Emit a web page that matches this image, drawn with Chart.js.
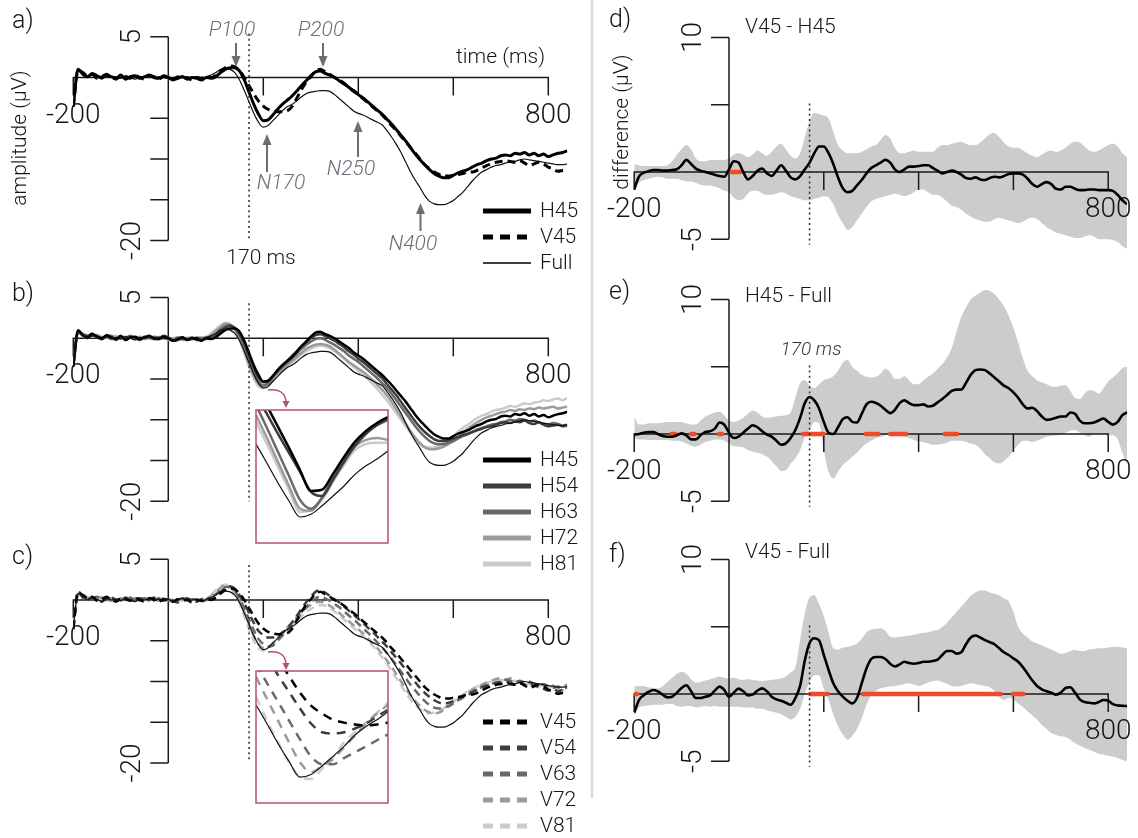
<!DOCTYPE html>
<html><head><meta charset="utf-8">
<script src="https://cdn.jsdelivr.net/npm/chart.js"></script>
<style>
html,body{margin:0;padding:0;background:#fff;}
#wrap{position:relative;width:1138px;height:838px;overflow:hidden;background:#fff;}
canvas{position:absolute;left:0;top:0;}
</style></head><body><div id="wrap">
<canvas id="ca" width="1138" height="838"></canvas>
<canvas id="cb" width="1138" height="838"></canvas>
<canvas id="cc" width="1138" height="838"></canvas>
<canvas id="cd" width="1138" height="838"></canvas>
<canvas id="ce" width="1138" height="838"></canvas>
<canvas id="cf" width="1138" height="838"></canvas>
<canvas id="cib" width="1138" height="838"></canvas>
<canvas id="cic" width="1138" height="838"></canvas>
</div>
<script>
// ---------------- DATA ----------------
const TIME = [-200,-190,-180,-170,-160,-150,-140,-130,-120,-110,-100,-90,-80,-70,-60,-50,-40,-30,-20,-10,0,10,20,30,40,50,60,70,80,90,100,110,120,130,140,150,160,170,180,190,200,210,220,230,240,250,260,270,280,290,300,310,320,330,340,350,360,370,380,390,400,410,420,430,440,450,460,470,480,490,500,510,520,530,540,550,560,570,580,590,600,610,620,630,640,650,660,670,680,690,700,710,720,730,740,750,760,770,780,790,800,810,820,830,840];

const H45 = [-3.5,1.0,0.4,0.1,0.5,0.2,0.0,0.3,0.1,-0.1, 0.3,-0.2,0.1,0.2,-0.1,0.1,0.3,0.0,-0.1,0.2, 0.0,-0.3,-0.1,0.1,-0.2,0.0,-0.1,-0.3,0.0,-0.1, 0.1,0.6,1.0,1.2,1.2,0.8,-0.3,-1.8,-3.3,-4.5, -5.3,-5.2,-4.6,-3.9,-3.3,-2.8,-2.3,-1.7,-1.0,-0.4, 0.2,0.7,0.8,0.5,0.3,0.0,-0.4,-0.8,-1.2,-1.7, -2.1,-2.5,-3.0,-3.5,-4.0,-4.5,-5.1,-5.7,-6.4,-7.1, -7.8,-8.6,-9.4,-10.1,-10.7,-11.3,-11.8,-12.1,-12.3,-12.3, -12.0,-11.7,-11.5,-11.3,-11.0,-10.7,-10.5,-10.2,-10.0,-9.9, -9.6,-9.5,-9.6,-9.3,-9.4,-9.2,-9.5,-9.3,-9.6,-9.4, -9.7,-9.5,-9.3,-9.2,-9.0];
const H54 = [-3.4,0.9,0.3,0.3,0.6,0.1,-0.1,0.4,0.2,-0.2, 0.2,-0.1,0.2,0.1,-0.2,0.2,0.2,-0.1,0.0,0.3, 0.1,-0.3,-0.2,0.0,-0.1,0.1,-0.2,-0.2,0.1,0.0, 0.3,0.8,1.3,1.5,1.3,0.6,-0.6,-2.1,-3.6,-4.8, -5.4,-5.3,-4.7,-4.0,-3.4,-2.8,-2.2,-1.6,-1.0,-0.5, 0.0,0.4,0.5,0.3,0.0,-0.3,-0.7,-1.1,-1.6,-2.0, -2.5,-2.9,-3.4,-3.9,-4.4,-4.9,-5.6,-6.3,-7.0,-7.8, -8.6,-9.4,-10.2,-10.9,-11.5,-12.0,-12.4,-12.6,-12.6,-12.5, -12.3,-12.1,-11.9,-11.7,-11.5,-11.3,-11.1,-10.9,-10.8,-10.6, -10.4,-10.3,-10.4,-10.2,-10.3,-10.1,-10.4,-10.5,-10.3,-10.6, -10.8,-10.7,-10.6,-10.8,-10.7];
const H63 = [-3.3,0.8,0.4,0.0,0.4,0.3,0.1,0.2,-0.1,0.0, 0.1,0.0,0.3,-0.1,-0.1,0.1,0.0,0.2,0.1,0.0, -0.1,-0.2,0.1,0.0,-0.2,-0.1,0.1,0.0,-0.1,0.1, 0.5,1.1,1.5,1.6,1.2,0.3,-1.0,-2.6,-4.1,-5.3, -5.8,-5.5,-4.8,-4.1,-3.5,-3.0,-2.5,-1.9,-1.3,-0.8, -0.4,-0.1,0.0,-0.2,-0.5,-0.8,-1.2,-1.6,-2.1,-2.5, -2.9,-3.4,-3.9,-4.4,-4.9,-5.5,-6.1,-6.8,-7.6,-8.4, -9.2,-10.0,-10.8,-11.5,-12.1,-12.6,-12.9,-13.0,-13.0,-12.8, -12.6,-12.3,-12.0,-11.8,-11.5,-11.2,-11.0,-10.8,-10.6,-10.5, -10.3,-10.2,-10.0,-10.1,-9.9,-10.0,-10.2,-10.1,-10.3,-10.5, -10.6,-10.4,-10.5,-10.7,-10.6];
const H72 = [-3.2,0.7,0.6,0.2,0.3,0.4,0.0,0.1,0.3,0.1, 0.0,0.2,0.1,0.0,0.2,-0.1,0.1,0.1,-0.1,0.1, 0.0,-0.1,0.0,-0.2,0.0,-0.1,0.0,0.1,0.0,0.4, 0.9,1.4,1.8,1.7,1.1,0.0,-1.5,-3.2,-4.6,-5.6, -5.9,-5.6,-4.9,-4.3,-3.8,-3.3,-2.8,-2.3,-1.8,-1.3, -1.0,-0.8,-0.7,-0.8,-1.0,-1.4,-1.9,-2.4,-2.9,-3.3, -3.7,-4.1,-4.6,-5.1,-5.7,-6.3,-7.0,-7.8,-8.7,-9.6, -10.5,-11.4,-12.2,-12.9,-13.4,-13.6,-13.6,-13.5,-13.3,-13.0, -12.6,-12.1,-11.6,-11.1,-10.7,-10.3,-10.0,-9.7,-9.5,-9.3, -9.1,-9.0,-8.8,-8.9,-8.7,-8.8,-8.6,-8.7,-8.5,-8.6, -8.5,-8.4,-8.6,-8.5,-8.4];
const H81 = [-3.0,0.6,0.5,0.4,0.2,0.3,0.2,0.0,0.2,0.3, 0.1,0.0,0.2,0.1,0.0,0.2,0.0,-0.1,0.2,0.0, -0.2,0.0,0.1,-0.1,0.1,0.0,-0.2,0.0,0.2,0.6, 1.1,1.6,1.9,1.7,1.0,-0.2,-1.8,-3.5,-4.9,-5.9, -6.1,-5.8,-5.1,-4.5,-4.0,-3.5,-3.0,-2.5,-2.0,-1.6, -1.3,-1.0,-0.9,-1.0,-1.2,-1.6,-2.0,-2.5,-3.0,-3.5, -4.0,-4.5,-5.0,-5.6,-6.2,-6.9,-7.6,-8.4,-9.2,-10.0, -10.8,-11.6,-12.3,-12.9,-13.3,-13.4,-13.4,-13.2,-12.9,-12.5, -12.0,-11.5,-11.0,-10.6,-10.2,-9.8,-9.5,-9.3,-9.0,-8.8, -8.7,-8.5,-8.3,-8.4,-8.2,-8.0,-8.1,-7.9,-7.8,-7.6, -7.7,-7.5,-7.4,-7.6,-7.3];
const V45 = [-3.6,0.9,0.6,0.2,0.4,-0.1,0.1,0.4,0.0,-0.2, 0.2,0.1,-0.1,0.3,0.0,-0.2,0.2,0.1,-0.2,0.1, 0.0,-0.2,0.1,-0.1,0.0,-0.3,0.0,-0.1,0.1,0.0, 0.3,0.8,1.2,1.4,1.3,0.8,0.0,-1.0,-2.0,-2.9, -3.5,-3.9,-4.1,-4.2,-4.2,-4.1,-3.6,-2.6,-1.5,-0.6, 0.1,0.8,1.0,0.7,0.4,0.0,-0.3,-0.7,-1.2,-1.6, -2.1,-2.6,-3.1,-3.6,-4.1,-4.6,-5.2,-5.9,-6.5,-7.2, -7.9,-8.6,-9.3,-10.0,-10.7,-11.2,-11.6,-11.9,-12.1,-12.1, -12.0,-11.9,-11.8,-11.6,-11.6,-11.4,-11.1,-10.8,-10.6,-10.4, -10.3,-10.2,-10.3,-10.4,-10.2,-10.5,-10.8,-10.6,-10.4,-10.6, -11.0,-11.2,-11.5,-11.4,-11.3];
const V54 = [-3.5,1.1,0.3,0.1,0.3,0.2,-0.2,0.2,0.3,0.0, -0.1,0.3,0.0,0.1,0.2,-0.1,0.0,0.3,0.0,-0.1, 0.2,-0.1,-0.3,0.0,0.2,-0.1,-0.2,0.1,0.2,0.1, 0.4,1.0,1.5,1.7,1.4,0.6,-0.4,-1.6,-2.8,-3.8, -4.3,-4.6,-4.6,-4.4,-4.0,-3.5,-2.8,-2.0,-1.1,-0.3, 0.4,1.0,1.2,0.9,0.5,0.1,-0.3,-0.8,-1.3,-1.8, -2.3,-2.8,-3.4,-3.9,-4.5,-5.1,-5.7,-6.4,-7.1,-7.8, -8.6,-9.4,-10.1,-10.8,-11.4,-11.9,-12.3,-12.6,-12.7,-12.6, -12.4,-12.1,-11.8,-11.5,-11.3,-11.0,-10.7,-10.5,-10.4,-10.2, -10.1,-10.0,-10.2,-10.3,-10.1,-10.4,-10.6,-10.4,-10.7,-10.9, -11.1,-10.9,-11.2,-11.0,-10.8];
const V63 = [-3.4,0.9,0.5,0.0,0.2,0.4,0.1,0.0,0.2,0.1, 0.0,0.1,0.3,-0.1,0.1,0.2,-0.1,0.0,0.2,0.0, 0.0,-0.2,0.0,0.2,-0.1,0.1,0.0,-0.2,0.0,0.3, 0.7,1.2,1.6,1.6,1.1,0.2,-1.0,-2.4,-3.7,-4.8, -5.4,-5.7,-5.6,-5.0,-4.4,-3.8,-3.1,-2.4,-1.6,-0.9, -0.3,0.2,0.4,0.2,-0.1,-0.5,-0.9,-1.4,-1.9,-2.4, -2.9,-3.5,-4.0,-4.6,-5.2,-5.8,-6.5,-7.2,-8.0,-8.8, -9.6,-10.4,-11.1,-11.8,-12.4,-12.9,-13.2,-13.3,-13.2,-13.0, -12.7,-12.3,-12.0,-11.7,-11.3,-11.0,-10.7,-10.5,-10.3,-10.1, -10.0,-9.8,-9.9,-10.1,-9.9,-10.2,-10.0,-10.3,-10.5,-10.3, -10.6,-10.8,-10.6,-10.9,-10.7];
const V72 = [-3.3,0.7,0.7,0.2,0.1,0.3,0.3,0.1,-0.1,0.2, 0.2,0.0,0.1,0.2,-0.1,0.0,0.2,0.1,-0.1,0.2, 0.1,0.0,-0.2,0.0,0.1,-0.1,0.1,0.0,0.2,0.5, 1.0,1.5,1.8,1.6,1.0,-0.1,-1.5,-3.0,-4.4,-5.4, -5.9,-5.8,-5.3,-4.7,-4.0,-3.4,-2.8,-2.1,-1.5,-1.0, -0.6,-0.3,-0.2,-0.4,-0.7,-1.1,-1.6,-2.1,-2.6,-3.1, -3.6,-4.1,-4.7,-5.3,-5.9,-6.6,-7.4,-8.2,-9.1,-10.0, -10.9,-11.7,-12.4,-13.0,-13.5,-13.8,-13.9,-13.8,-13.5,-13.1, -12.7,-12.2,-11.8,-11.4,-11.0,-10.7,-10.4,-10.1,-9.9,-9.7, -9.6,-9.8,-9.6,-9.9,-10.1,-9.9,-10.2,-10.4,-10.2,-10.5, -10.7,-10.5,-10.8,-10.6,-10.4];
const V81 = [-3.1,0.6,0.4,0.3,0.3,0.2,0.1,0.3,0.1,0.0, 0.1,0.2,0.0,0.1,0.1,-0.1,0.0,0.2,0.1,-0.1, 0.0,0.1,-0.1,-0.1,0.0,0.1,-0.1,0.1,0.1,0.6, 1.2,1.7,1.9,1.6,0.8,-0.4,-2.0,-3.6,-5.0,-5.9, -6.2,-6.0,-5.4,-4.8,-4.2,-3.7,-3.2,-2.6,-2.0,-1.5, -1.1,-0.8,-0.6,-0.7,-1.0,-1.4,-1.9,-2.4,-2.9,-3.4, -3.9,-4.4,-5.0,-5.6,-6.3,-7.0,-7.8,-8.7,-9.6,-10.5, -11.4,-12.2,-12.9,-13.4,-13.8,-13.9,-13.8,-13.6,-13.3,-12.9, -12.5,-12.0,-11.6,-11.2,-10.9,-10.6,-10.4,-10.2,-10.0,-9.9, -9.8,-9.9,-10.1,-9.9,-10.2,-10.4,-10.3,-10.5,-10.7,-10.5, -10.8,-10.6,-10.9,-11.1,-10.9];
const FULL = [-3.3,0.8,0.5,0.0,0.3,0.1,-0.2,0.2,0.0,0.1, -0.1,0.2,0.0,-0.2,0.1,0.0,0.2,-0.1,0.1,0.0, 0.1,-0.2,0.0,0.2,-0.1,0.0,0.1,-0.2,0.1,0.3, 0.6,1.0,1.1,1.0,0.6,-0.3,-1.6,-3.0,-4.4,-5.5, -6.1,-5.9,-5.3,-4.7,-4.1,-3.6,-3.3,-2.9,-2.4,-2.0, -1.8,-1.7,-1.6,-1.6,-1.7,-2.1,-2.6,-3.1,-3.6,-4.1, -4.4,-4.6,-4.9,-5.2,-5.5,-5.8,-6.5,-7.3,-8.2,-9.2, -10.4,-11.6,-12.6,-13.5,-14.5,-15.2,-15.5,-15.6,-15.6,-15.4, -15.1,-14.6,-14.1,-13.4,-12.7,-12.1,-11.6,-11.3,-11.0,-10.8, -10.7,-10.5,-10.4,-10.3,-10.1,-10.0,-10.1,-10.2,-10.3,-10.4, -10.5,-10.6,-10.7,-10.7,-10.6];

// zoomed N170 windows (insets)
const INSET_TIME = [175,180,185,190,195,200,205,210,215,220,225,230,235];
const INSET_FULL = [-3.65,-4.30,-4.97,-5.58,-6.12,-6.03,-5.74,-5.41,-5.07,-4.68,-4.39,-4.16,-3.89];
const INSET_H45 = [-1.66,-2.36,-3.07,-3.78,-4.53,-5.24,-5.20,-4.66,-4.09,-3.58,-3.21,-2.94,-2.74];
const INSET_H54 = [-1.99,-2.64,-3.31,-3.95,-4.59,-5.27,-5.41,-4.86,-4.26,-3.72,-3.31,-3.01,-2.77];
const INSET_H63 = [-2.33,-3.11,-3.92,-4.73,-5.54,-5.84,-5.47,-4.80,-4.12,-3.58,-3.24,-3.01,-2.84];
const INSET_H72 = [-2.67,-3.45,-4.26,-5.07,-5.84,-5.91,-5.47,-4.80,-4.19,-3.72,-3.51,-3.45,-3.51];
const INSET_H81 = [-2.91,-3.65,-4.43,-5.20,-5.95,-5.88,-5.54,-4.93,-4.36,-3.85,-3.65,-3.61,-3.61];
const INSET_V45 = [-0.98,-1.55,-2.09,-2.67,-3.24,-3.68,-3.95,-4.16,-4.26,-4.32,-4.36,-4.32,-4.26];
const INSET_V54 = [-1.49,-2.03,-2.64,-3.21,-3.78,-4.29,-4.59,-4.63,-4.59,-4.46,-4.29,-4.05,-3.82];
const INSET_V63 = [-2.26,-2.91,-3.55,-4.19,-4.83,-5.41,-5.68,-5.68,-5.47,-5.27,-5.07,-4.86,-4.66];
const INSET_V72 = [-2.70,-3.45,-4.19,-4.93,-5.61,-5.95,-5.74,-5.51,-5.10,-4.70,-4.29,-3.95,-3.65];
const INSET_V81 = [-3.38,-4.19,-4.93,-5.61,-6.11,-6.18,-5.84,-5.44,-4.93,-4.59,-4.26,-3.92,-3.58];

// difference waves: mean and confidence band
const D_MEAN = [-1.3,-0.35,-0.05,0.05,0.15,0.15,0.1,0.1,0.15,0.2, 0.5,0.9,0.6,0.25,0.1,0.0,-0.1,-0.2,-0.3,-0.35, 0.2,0.8,0.7,0.0,-0.55,-0.3,0.1,0.25,-0.1,-0.3, 0.1,0.5,0.1,-0.4,-0.55,-0.3,0.2,0.7,1.4,1.9, 1.9,1.4,0.6,-0.4,-1.2,-1.5,-1.4,-1.0,-0.6,-0.1, 0.3,0.5,0.7,0.9,0.7,0.2,0.0,0.2,0.4,0.4, 0.45,0.5,0.5,0.3,0.1,-0.1,0.0,0.1,0.0,-0.2, -0.45,-0.5,-0.4,-0.55,-0.6,-0.45,-0.35,-0.4,-0.3,-0.15, -0.1,-0.1,-0.2,-0.5,-0.9,-1.1,-0.9,-0.75,-0.9,-1.25, -1.3,-1.1,-1.1,-1.25,-1.35,-1.35,-1.3,-1.3,-1.35,-1.35, -1.35,-1.4,-1.7,-2.1,-2.4];
const D_UPPER = [0.6,0.5,0.45,0.45,0.45,0.45,0.45,0.5,0.8,1.3, 1.7,2.0,1.7,1.0,0.8,0.8,0.9,0.9,0.9,0.9, 1.0,1.3,1.4,1.3,1.1,1.3,1.6,1.4,1.2,1.5, 1.9,2.1,1.7,1.2,1.0,1.4,2.6,3.8,4.4,4.3, 4.2,4.0,3.0,2.0,1.6,1.4,1.4,1.4,1.5,1.7, 1.9,2.0,2.4,2.75,2.5,1.8,1.4,1.4,1.5,1.6, 1.5,1.5,1.5,1.5,1.8,2.0,2.0,2.1,2.2,2.25, 2.1,2.0,2.0,2.2,2.5,2.8,2.9,2.6,2.2,1.9, 1.8,1.8,1.6,1.4,1.2,1.1,1.3,1.5,1.6,1.5, 1.6,1.8,2.1,2.25,2.2,1.9,1.6,1.5,1.6,1.8, 2.0,2.1,1.9,1.4,1.1];
const D_LOWER = [-1.4,-0.8,-0.6,-0.5,-0.4,-0.35,-0.4,-0.5,-0.5,-0.5, -0.6,-0.7,-0.7,-0.8,-0.95,-1.0,-1.0,-1.1,-1.2,-1.4, -1.5,-1.9,-2.1,-2.0,-1.6,-1.4,-1.4,-1.6,-1.7,-1.7, -1.6,-1.5,-1.6,-1.8,-1.9,-2.0,-2.1,-2.1,-2.0,-1.9, -1.8,-1.9,-2.4,-3.2,-3.8,-4.3,-4.1,-3.6,-3.1,-2.6, -2.2,-2.0,-1.9,-1.8,-1.7,-1.6,-1.7,-1.8,-1.7,-1.5, -1.3,-1.3,-1.5,-1.7,-1.7,-1.9,-2.2,-2.5,-2.6,-2.8, -3.1,-3.3,-3.5,-3.6,-3.7,-3.7,-3.5,-3.4,-3.5,-3.6, -3.7,-3.8,-3.7,-3.5,-3.4,-3.5,-3.8,-4.1,-4.3,-4.5, -4.6,-4.7,-4.8,-4.9,-4.9,-4.8,-4.7,-4.8,-5.0,-5.0, -5.0,-5.05,-5.2,-5.5,-5.7];
const E_MEAN = [-0.05,0.0,0.1,0.15,0.15,0.0,-0.15,-0.2,-0.2,-0.1, 0.05,-0.1,-0.4,-0.4,-0.1,0.15,0.2,0.4,0.85,0.7, 0.1,-0.3,-0.2,0.1,0.4,0.65,0.5,0.2,-0.05,-0.2, -0.5,-0.8,-0.7,-0.3,0.3,1.2,2.3,2.75,2.5,1.9, 0.9,0.1,0.0,0.5,1.1,1.25,0.9,0.85,1.5,2.2, 2.4,2.3,2.1,1.8,1.55,1.8,2.3,2.5,2.3,2.15, 2.15,2.2,2.05,2.1,2.35,2.6,2.9,3.2,3.3,3.3, 3.8,4.4,4.75,4.8,4.75,4.5,4.2,3.9,3.6,3.4, 3.1,2.7,2.2,1.9,1.95,1.7,1.3,1.05,1.1,1.2, 1.3,1.3,1.6,1.5,1.0,0.8,0.8,0.85,1.0,1.15, 0.9,0.7,0.9,1.4,1.6];
const E_UPPER = [1.3,0.7,0.7,0.8,0.8,0.8,0.85,0.9,0.9,0.9, 0.9,0.8,0.7,0.7,1.0,1.3,1.45,1.6,1.65,1.4, 1.0,0.9,1.0,1.2,1.5,1.75,1.6,1.3,1.2,1.25, 1.3,1.35,1.4,1.6,2.7,3.8,4.0,3.6,3.4,3.7, 4.0,4.1,4.3,4.7,5.3,5.5,5.0,4.7,4.4,4.25, 4.2,4.25,4.5,4.85,4.6,4.1,4.1,4.3,4.0,3.7, 3.7,4.0,4.25,4.5,4.85,5.2,5.7,6.4,7.6,8.7, 9.4,10.0,10.3,10.5,10.7,10.65,10.4,10.0,9.5,8.8, 7.9,6.8,5.6,4.7,4.3,4.0,3.85,3.7,3.55,3.5, 3.6,3.65,3.2,2.7,2.6,3.0,3.25,3.2,3.0,3.4, 3.9,4.2,4.5,4.9,5.0];
const E_LOWER = [-0.3,-0.4,-0.4,-0.45,-0.45,-0.45,-0.45,-0.45,-0.5,-0.5, -0.55,-0.7,-0.85,-0.95,-0.8,-0.6,-0.5,-0.4,-0.4,-0.5, -0.7,-0.9,-0.95,-1.0,-1.2,-1.3,-1.4,-1.5,-1.7,-2.0, -2.4,-2.75,-2.7,-2.2,-1.8,-1.2,-0.2,0.3,0.9,0.8, -1.2,-2.8,-3.3,-2.8,-2.3,-2.0,-1.7,-1.4,-1.0,-0.7, -0.5,-0.3,-0.2,-0.1,0.0,0.05,-0.05,-0.2,-0.3,-0.45, -0.55,-0.6,-0.7,-0.8,-0.8,-0.75,-0.65,-0.5,-0.5,-0.5, -0.6,-0.7,-0.8,-1.1,-1.5,-1.8,-2.1,-2.2,-2.0,-1.7, -1.2,-0.8,-0.5,-0.5,-0.6,-0.5,-0.35,-0.2,-0.15,-0.1, -0.05,0.1,0.25,0.3,0.1,-0.1,-0.2,0.0,0.05,0.0, -0.1,-0.1,-0.4,-1.4,-2.3];
const F_MEAN = [-1.4,-0.45,-0.1,0.15,0.3,0.2,-0.05,-0.25,-0.2,0.1, 0.45,0.65,0.2,-0.3,-0.3,-0.2,-0.1,0.25,0.55,0.3, -0.2,0.1,0.4,0.2,-0.1,-0.05,0.25,0.42,0.2,-0.2, -0.4,-0.5,-0.65,-0.8,-0.3,0.6,2.5,3.8,4.15,4.0, 2.9,1.8,0.8,0.2,-0.2,-0.5,-0.7,-0.3,0.8,1.9, 2.6,2.75,2.75,2.6,2.25,2.05,2.2,2.4,2.3,2.25, 2.3,2.4,2.4,2.45,2.55,2.9,3.2,3.2,3.0,3.1, 3.7,4.2,4.35,4.2,4.0,3.85,3.7,3.4,3.1,2.9, 2.65,2.4,2.0,1.5,1.0,0.6,0.35,0.2,0.1,-0.05, 0.1,0.45,0.5,0.1,-0.4,-0.6,-0.65,-0.7,-0.6,-0.45, -0.5,-0.75,-0.85,-0.87,-0.9];
const F_UPPER = [0.55,0.6,0.6,0.5,0.45,0.4,0.6,0.9,1.2,1.5, 1.66,1.5,1.1,0.85,0.9,1.0,1.1,1.2,1.3,1.2, 1.15,1.2,1.1,1.05,1.1,1.05,1.0,0.95,1.0,1.05, 1.1,1.16,1.3,1.6,2.0,4.0,6.0,7.2,7.35,6.7, 5.8,4.6,3.4,3.3,3.45,3.5,3.6,3.75,4.1,4.6, 4.8,4.85,4.88,4.7,4.25,4.2,4.25,4.3,4.35,4.4, 4.5,4.55,4.6,4.7,4.75,5.0,5.3,5.7,6.1,6.5, 6.9,7.3,7.55,7.7,7.7,7.55,7.45,7.35,7.1,6.9, 6.1,5.0,4.5,4.2,3.9,3.75,3.6,3.45,3.3,3.15, 3.0,3.05,3.2,3.27,3.2,3.2,3.3,3.35,3.4,3.4, 3.45,3.5,3.52,3.45,3.4];
const F_LOWER = [-1.6,-1.0,-0.9,-0.85,-0.8,-0.8,-0.8,-0.75,-0.75,-0.9, -0.95,-0.9,-0.9,-1.0,-0.95,-0.9,-0.95,-0.9,-0.95,-0.95, -0.95,-0.95,-0.95,-1.0,-1.0,-1.0,-1.1,-1.1,-1.2,-1.3, -1.4,-1.5,-1.7,-1.9,-1.7,-1.1,0.0,0.9,1.4,1.4, 0.4,-0.4,-1.5,-2.4,-3.0,-3.4,-3.1,-2.6,-1.8,-0.8, -0.1,0.25,0.42,0.5,0.55,0.6,0.65,0.75,0.8,0.7, 0.6,0.7,0.85,0.95,1.0,0.9,0.75,0.6,0.55,0.6, 0.7,0.8,0.75,0.65,0.6,0.5,0.2,-0.2,-0.45,-0.3, -0.4,-0.7,-0.95,-1.3,-1.6,-1.9,-2.3,-2.6,-2.9,-3.05, -3.15,-3.2,-3.4,-3.65,-3.85,-4.0,-4.15,-4.3,-4.45,-4.5, -4.6,-4.66,-4.75,-4.9,-5.0];

// significant intervals (ms)
const SIG_D = [[5,24]];
const SIG_E = [[-121,-114],[-80,-73],[-21,-15],[156,199],[289,315],[340,374],[455,481]];
const SIG_F = [[-199,-194],[171,208],[283,573],[599,621]];

// axis ticks
const LEFT_YTICKS = [5,0,-5,-10,-15,-20];
const RIGHT_YTICKS = [10,5,0,-5];
const XTICKS = [-200,200,400,600,800];

// ---------------- DRAWING ----------------
const W = 1138, H = 838;
const FONT = '"Roboto","Liberation Sans",Arial,sans-serif';
const GREYS = ['#000000','#3d3d3d','#6a6a6a','#9b9b9b','#cbcbcb'];
const ANN = '#6b6e76';
const PINK = '#b5507a';

function pts(vals, times){ return vals.map((v,i)=>({x:(times||TIME)[i], y:v})); }
function ln(vals, color, width, dash, times, clip){
  const d = {data:pts(vals,times), borderColor:color, borderWidth:width, borderDash:dash||[], pointRadius:0,
    fill:false, cubicInterpolationMode:'monotone'};
  if (clip!==undefined) d.clip = clip;
  return d;
}
function sigData(iv){ const out=[]; iv.forEach(([s,e])=>{out.push({x:s,y:0},{x:e,y:0},{x:e,y:null});}); return out; }

function txt(ctx, s, x, y, size, o){
  o=o||{};
  ctx.save();
  ctx.font = (o.italic?'italic ':'') + (o.weight||300) + ' ' + size + 'px ' + FONT;
  ctx.fillStyle = o.color || '#161616';
  ctx.textAlign = o.align || 'center';
  ctx.textBaseline = 'middle';
  ctx.translate(x,y);
  if (o.rot) ctx.rotate(o.rot);
  ctx.fillText(s,0,0);
  ctx.restore();
}
function arrow(ctx, x, yTail, yHead){
  const dir = Math.sign(yHead-yTail);
  ctx.save(); ctx.strokeStyle=ANN; ctx.fillStyle=ANN; ctx.lineWidth=2;
  ctx.beginPath(); ctx.moveTo(x,yTail); ctx.lineTo(x,yHead-dir*9); ctx.stroke();
  ctx.beginPath(); ctx.moveTo(x,yHead); ctx.lineTo(x-4.5,yHead-dir*11); ctx.lineTo(x+4.5,yHead-dir*11); ctx.closePath(); ctx.fill();
  ctx.restore();
}
function dotted(c, t, v1, v2){
  const ctx=c.ctx, x=c.scales.x.getPixelForValue(t);
  ctx.save(); ctx.strokeStyle='#2a2a2a'; ctx.lineWidth=1.5; ctx.setLineDash([2,3.2]);
  ctx.beginPath(); ctx.moveTo(x,c.scales.y.getPixelForValue(v1)); ctx.lineTo(x,c.scales.y.getPixelForValue(v2)); ctx.stroke();
  ctx.restore();
}
function axes(c, yticks, ytop, ybot, ylabTop, ylabBot){
  const ctx=c.ctx, xs=c.scales.x, ys=c.scales.y;
  const X0=xs.getPixelForValue(0), Y0=ys.getPixelForValue(0);
  ctx.save(); ctx.strokeStyle='#1a1a1a'; ctx.lineWidth=1.5; ctx.beginPath();
  ctx.moveTo(X0, ys.getPixelForValue(ytop)); ctx.lineTo(X0, ys.getPixelForValue(ybot));
  yticks.forEach(v=>{const y=ys.getPixelForValue(v); ctx.moveTo(X0-18,y); ctx.lineTo(X0,y);});
  ctx.moveTo(xs.getPixelForValue(-200)-0.7, Y0); ctx.lineTo(xs.getPixelForValue(800)+0.7, Y0);
  XTICKS.forEach(t=>{const x=xs.getPixelForValue(t); ctx.moveTo(x,Y0); ctx.lineTo(x,Y0+18);});
  ctx.stroke(); ctx.restore();
  txt(ctx, ylabTop, X0-35, ys.getPixelForValue(ytop), 28, {rot:-Math.PI/2});
  txt(ctx, ylabBot, X0-35, ys.getPixelForValue(ybot), 28, {rot:-Math.PI/2});
  txt(ctx, '-200', xs.getPixelForValue(-200), Y0+38, 28);
  txt(ctx, '800', xs.getPixelForValue(800), Y0+38, 28);
}
function legend(ctx, items, y0){
  items.forEach((it,i)=>{
    const y=y0+i*26;
    ctx.save(); ctx.strokeStyle=it.color; ctx.lineWidth=it.w; ctx.setLineDash(it.dash||[]);
    ctx.beginPath(); ctx.moveTo(483,y); ctx.lineTo(531,y); ctx.stroke(); ctx.restore();
    txt(ctx, it.label, 540, y+1, 21, {align:'left'});
  });
}

function make(id, area, xr, yr, datasets, hooks){
  return new Chart(document.getElementById(id), {
    type:'line',
    data:{datasets},
    options:{
      responsive:false, animation:false, devicePixelRatio:1, events:[],
      layout:{padding:{left:area.left, right:W-area.right, top:area.top, bottom:H-area.bottom}},
      scales:{x:{type:'linear', min:xr[0], max:xr[1], display:false},
              y:{type:'linear', min:yr[0], max:yr[1], display:false}},
      plugins:{legend:{display:false}, tooltip:{enabled:false}}
    },
    plugins:[{id:'p_'+id,
      beforeDatasetsDraw(c){ hooks.before && hooks.before(c); },
      afterDatasetDraw(c,a){ hooks.afterDs && hooks.afterDs(c,a); },
      afterDatasetsDraw(c){ hooks.after && hooks.after(c); }}]
  });
}
function areaFor(x0, pxms, xr, y0, pxu, yr){
  return {left:x0+xr[0]*pxms, right:x0+xr[1]*pxms, top:y0-yr[1]*pxu, bottom:y0-yr[0]*pxu};
}

// ----- left column -----
const LX0=168.3, LPX=0.475, LPU=8.15, LXR=[-200,840], LYR=[-21,6];
function leftPanel(id, y0, datasets, letterY, extra){
  return make(id, areaFor(LX0,LPX,LXR,y0,LPU,LYR), LXR, LYR, datasets, {
    before(c){ axes(c, LEFT_YTICKS, 5, -20, '5', '-20'); },
    after(c){ txt(c.ctx, letterY[0], 12, letterY[1], 25, {align:'left'}); extra(c); }
  });
}

leftPanel('ca', 77.5, [
  ln(V45,'#000',3,[8,5]), ln(H45,'#000',3), ln(FULL,'#111',1.2)
], ['a)',22], c=>{
  const ctx=c.ctx;
  dotted(c,170,5.4,-20.1);
  txt(ctx,'time (ms)',545,58,21,{align:'right'});
  txt(ctx,'amplitude (µV)',21,138,21,{rot:-Math.PI/2});
  txt(ctx,'170 ms',261,259,21);
  txt(ctx,'P100',232,31,21,{italic:true,color:ANN}); arrow(ctx,236,43,67);
  txt(ctx,'P200',321,31,21,{italic:true,color:ANN}); arrow(ctx,323,43,67);
  txt(ctx,'N170',281,184,21,{italic:true,color:ANN}); arrow(ctx,267,172,134);
  txt(ctx,'N250',351,170,21,{italic:true,color:ANN}); arrow(ctx,358,157,121);
  txt(ctx,'N400',413,245,21,{italic:true,color:ANN}); arrow(ctx,420.5,231,203);
  legend(ctx,[{label:'H45',color:'#000',w:5},{label:'V45',color:'#000',w:5,dash:[10,7]},{label:'Full',color:'#000',w:1.5}],211);
});

leftPanel('cb', 338.3, [
  ln(FULL,'#111',1.2), ln(H45,GREYS[0],2.5), ln(H54,GREYS[1],2.5), ln(H63,GREYS[2],2.5), ln(H72,GREYS[3],2.5), ln(H81,GREYS[4],2.5)
], ['b)',295], c=>{
  dotted(c,170,4.3,-20);
  legend(c.ctx,['H45','H54','H63','H72','H81'].map((l,i)=>({label:l,color:GREYS[i],w:5})),460);
});

leftPanel('cc', 600, [
  ln(FULL,'#111',1.2), ln(V45,GREYS[0],2.5,[8,5]), ln(V54,GREYS[1],2.5,[8,5]), ln(V63,GREYS[2],2.5,[8,5]), ln(V72,GREYS[3],2.5,[8,5]), ln(V81,GREYS[4],2.5,[8,5])
], ['c)',558], c=>{
  dotted(c,170,4.3,-19.9);
  legend(c.ctx,['V45','V54','V63','V72','V81'].map((l,i)=>({label:l,color:GREYS[i],w:5,dash:[10,7]})),722);
});

// ----- right column -----
const RX0=729, RPX=0.474, RPU=13.45, RXR=[-200,840], RYR=[-6.5,11];
function rightPanel(id, y0, mean, upper, lower, sig, letter, title, extra){
  return make(id, areaFor(RX0,RPX,RXR,y0,RPU,RYR), RXR, RYR, [
    ln(mean,'#000',2.6),
    {data:sigData(sig), borderColor:'#ef4a2a', borderWidth:4.5, borderCapStyle:'round', pointRadius:0, spanGaps:false, fill:false},
    {data:pts(upper), borderColor:'rgba(0,0,0,0)', borderWidth:0, pointRadius:0, fill:'+1', backgroundColor:'#cccccc', cubicInterpolationMode:'monotone'},
    {data:pts(lower), borderColor:'rgba(0,0,0,0)', borderWidth:0, pointRadius:0, fill:false, cubicInterpolationMode:'monotone'}
  ], {
    afterDs(c,a){ if(a.index===2) axes(c, RIGHT_YTICKS, 10, -5, '10', '-5'); },
    after(c){
      dotted(c,170,5.1,-5.4);
      txt(c.ctx, letter[0], 609, letter[1], 25, {align:'left'});
      txt(c.ctx, title[0], 745, title[1], 21, {align:'left'});
      extra && extra(c);
    }
  });
}
rightPanel('cd', 172, D_MEAN, D_UPPER, D_LOWER, SIG_D, ['d)',21], ['V45 - H45',28], c=>{
  const ctx=c.ctx;
  txt(ctx,'difference (µV)',623,122,21,{rot:-Math.PI/2});
  ctx.save(); ctx.strokeStyle='#dadada'; ctx.lineWidth=2.5; ctx.beginPath(); ctx.moveTo(592,0); ctx.lineTo(592,798); ctx.stroke(); ctx.restore();
});
rightPanel('ce', 434, E_MEAN, E_UPPER, E_LOWER, SIG_E, ['e)',293], ['H45 - Full',297], c=>{
  txt(c.ctx,'170 ms',811,350,19,{italic:true,color:'#333'});
});
rightPanel('cf', 694, F_MEAN, F_UPPER, F_LOWER, SIG_F, ['f)',556], ['V45 - Full',553], null);

// ----- insets -----
const IXR=[175,235], IYR=[-7.0,-2.5];
function inset(id, box, datasets, arr){
  return make(id, box, IXR, IYR, datasets, {
    before(c){ const a=c.chartArea; c.ctx.save(); c.ctx.fillStyle='#fff'; c.ctx.fillRect(a.left,a.top,a.right-a.left,a.bottom-a.top); c.ctx.restore(); },
    after(c){
      const ctx=c.ctx, a=c.chartArea;
      ctx.save(); ctx.strokeStyle=PINK; ctx.lineWidth=1.5; ctx.strokeRect(a.left,a.top,a.right-a.left,a.bottom-a.top);
      ctx.beginPath(); ctx.moveTo(arr[0],arr[1]); ctx.quadraticCurveTo(arr[2]-1,arr[1]-2,arr[2],arr[3]-6); ctx.stroke();
      ctx.fillStyle=PINK; ctx.beginPath(); ctx.moveTo(arr[2],arr[3]); ctx.lineTo(arr[2]-3.5,arr[3]-7); ctx.lineTo(arr[2]+3.5,arr[3]-7); ctx.closePath(); ctx.fill();
      ctx.restore();
    }
  });
}
inset('cib', {left:256,right:388,top:410,bottom:543}, [
  ln(INSET_FULL,'#111',1.2,[],INSET_TIME,0),
  ln(INSET_H45,GREYS[0],2.5,[],INSET_TIME,0), ln(INSET_H54,GREYS[1],2.5,[],INSET_TIME,0), ln(INSET_H63,GREYS[2],2.5,[],INSET_TIME,0),
  ln(INSET_H72,GREYS[3],2.5,[],INSET_TIME,0), ln(INSET_H81,GREYS[4],2.5,[],INSET_TIME,0)
], [268,390,286,408]);
inset('cic', {left:256,right:388,top:671,bottom:803}, [
  ln(INSET_FULL,'#111',1.2,[],INSET_TIME,0),
  ln(INSET_V45,GREYS[0],2.5,[9,7],INSET_TIME,0), ln(INSET_V54,GREYS[1],2.5,[9,7],INSET_TIME,0), ln(INSET_V63,GREYS[2],2.5,[9,7],INSET_TIME,0),
  ln(INSET_V72,GREYS[3],2.5,[9,7],INSET_TIME,0), ln(INSET_V81,GREYS[4],2.5,[9,7],INSET_TIME,0)
], [268,652,286,670]);
</script>
</body></html>
